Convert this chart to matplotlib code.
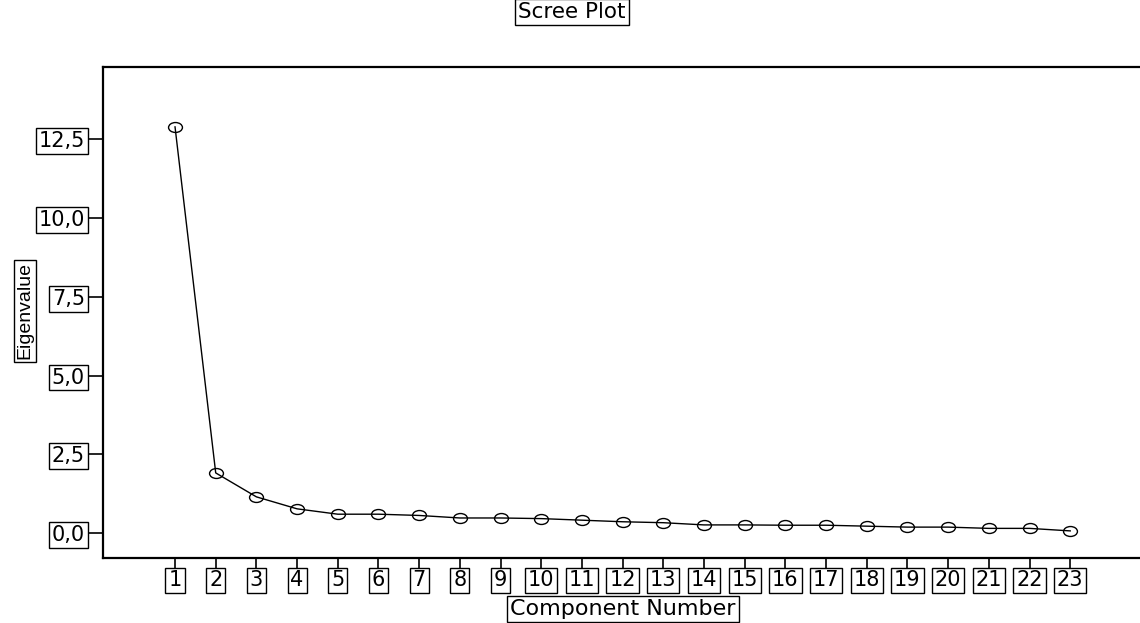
import matplotlib
matplotlib.use("Agg")
import matplotlib.pyplot as plt
from matplotlib.path import Path
from matplotlib.transforms import Affine2D

components = list(range(1, 24))
eigenvalues = [12.89, 1.91, 1.15, 0.77, 0.60, 0.60, 0.56, 0.48, 0.48, 0.46,
               0.41, 0.36, 0.33, 0.26, 0.26, 0.25, 0.25, 0.22, 0.19, 0.19,
               0.15, 0.15, 0.07]
y_ticks = [0.0, 2.5, 5.0, 7.5, 10.0, 12.5]
y_tick_labels = ["0,0", "2,5", "5,0", "7,5", "10,0", "12,5"]
x_tick_labels = [str(c) for c in components]

W, H = 1140, 623
fig = plt.figure(figsize=(W / 100, H / 100), dpi=100)
fig.patch.set_facecolor("white")

left_px, right_px, top_px, bottom_px = 103, 1150, 67, 558
ax = fig.add_axes([left_px / W, 1 - bottom_px / H,
                   (right_px - left_px) / W, (bottom_px - top_px) / H])

ellipse = Path.unit_circle().transformed(Affine2D().scale(1.4, 1.0))
ax.plot(components, eigenvalues, color="black", lw=1.0,
        marker=ellipse, markersize=10, mfc="none", mec="black", mew=1.0,
        clip_on=False, zorder=3)

ax.set_xlim(-0.77, 24.96)
ax.set_ylim(-0.79, 14.79)

box = dict(boxstyle="square,pad=0.14", fc="white", ec="black", lw=1.0)

ax.set_yticks(y_ticks)
ax.set_yticklabels(y_tick_labels, family="DejaVu Sans", fontsize=15, bbox=box)
ax.set_xticks(components)
ax.set_xticklabels(x_tick_labels, family="DejaVu Sans", fontsize=15, bbox=box)
ax.tick_params(axis="y", length=11, width=1.2, pad=2, colors="black")
ax.tick_params(axis="x", length=7, width=1.2, pad=2, colors="black")

for s in ax.spines.values():
    s.set_linewidth(1.6)
    s.set_color("black")

fig.text(572 / W, 1 - 12 / H, "Scree Plot", ha="center", va="center",
         family="DejaVu Sans", fontsize=15.5, bbox=box)
fig.text(623 / W, 1 - 609 / H, "Component Number", ha="center", va="center",
         family="DejaVu Sans", fontsize=16, bbox=box)
fig.text(25 / W, 1 - 311 / H, "Eigenvalue", ha="center", va="center",
         rotation=90, family="Liberation Sans", fontsize=14, bbox=box)

fig.savefig("out.png", dpi=100, facecolor="white")
